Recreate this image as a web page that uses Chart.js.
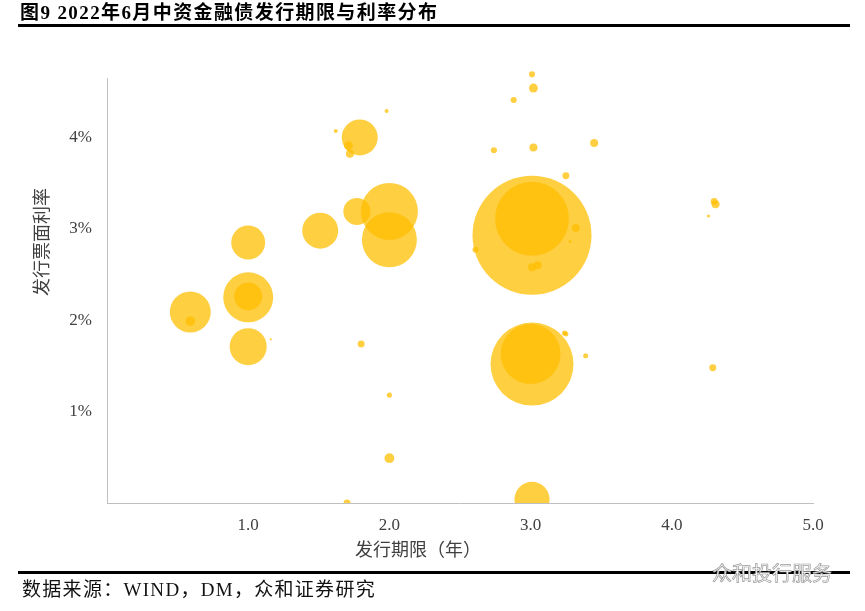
<!DOCTYPE html>
<html>
<head>
<meta charset="utf-8">
<script src="https://cdn.jsdelivr.net/npm/chart.js@4.4.1/dist/chart.umd.min.js"></script>
<style>
  html, body { margin: 0; padding: 0; background: #fff; }
  body { width: 865px; height: 611px; position: relative; overflow: hidden; }
  #c { position: absolute; left: 0; top: 0; }
  .t { position: absolute; white-space: nowrap; }
  #title { left: 20px; top: 1px; font: bold 19px "Liberation Serif", "Noto Sans CJK SC", serif; letter-spacing: 1.4px; color: #000; line-height: 24px; }
  .rule { position: absolute; left: 18px; width: 832px; height: 3px; background: #000; }
  #src { left: 22px; top: 577px; font: 19px "Liberation Serif", "Noto Sans CJK SC", serif; letter-spacing: 1.3px; color: #111; line-height: 26px; }
  #xt { left: 355px; top: 535px; font: 18px "Noto Sans CJK SC", sans-serif; color: #404040; line-height: 26px; }
  #yt { left: 40px; top: 242px; font: 18px "Noto Sans CJK SC", sans-serif; color: #404040; line-height: 26px; transform: translate(-50%, -50%) rotate(-90deg); }
  #wm { left: 712px; top: 560px; font: 20px "Noto Sans CJK SC", sans-serif; color: #fff; -webkit-text-stroke: 0.7px #999; line-height: 26px; }
</style>
</head>
<body>
<canvas id="c" width="865" height="611"></canvas>
<div id="title" class="t">图9 2022年6月中资金融债发行期限与利率分布</div>
<div class="rule" style="top:24px"></div>
<div class="rule" style="top:571px"></div>
<div id="xt" class="t">发行期限（年）</div>
<div id="yt" class="t">发行票面利率</div>
<div id="wm" class="t">众和投行服务</div>
<div id="src" class="t">数据来源：WIND，DM，众和证券研究</div>
<script>
// Issue tenor (years)
const tenorYears = [0.59, 0.59, 1.00, 1.00, 1.00, 1.00, 1.16, 1.51, 1.77, 1.79, 1.62, 1.98, 1.72, 1.71, 2.00, 2.00, 1.80, 2.00, 2.00, 1.70, 2.61, 3.01, 3.01, 3.32, 3.28, 3.01, 3.05, 3.25, 2.74, 3.02, 3.45, 2.88, 3.02, 3.01, 3.01, 3.01, 3.00, 3.24, 3.25, 3.39, 4.29, 4.31, 4.30, 4.26, 3.01];
// Coupon rate (%)
const couponRate = [2.09, 1.99, 2.85, 2.25, 2.26, 1.71, 1.79, 2.98, 3.19, 4.00, 4.07, 4.29, 3.82, 3.91, 3.19, 2.88, 1.74, 1.18, 0.49, 0.00, 2.77, 2.93, 3.11, 3.01, 2.86, 2.58, 2.60, 3.58, 3.86, 3.89, 3.94, 4.41, 4.54, 4.69, 4.85, 1.52, 1.63, 1.86, 1.85, 1.61, 1.48, 3.27, 3.30, 3.14, 0.04];
// Issue amount (bubble size)
const issueAmount = [105, 6, 72, 156, 49, 86, 0.3, 81, 46, 81, 1, 1, 4, 5, 203, 189, 3, 1.6, 6, 3, 2.3, 885, 342, 4, 0.6, 4, 4, 3, 2.3, 4, 4, 2.3, 5, 2.3, 0.6, 430, 225, 1.6, 1.6, 1.6, 3, 4, 3, 0.6, 77];
// Tick labels
const xTickLabels = ['1.0', '2.0', '3.0', '4.0', '5.0'];
const yTickLabels = ['1%', '2%', '3%', '4%'];

const points = tenorYears.map((x, i) => ({ x: x, y: couponRate[i], r: Math.sqrt(issueAmount[i]) * 2 }));

new Chart(document.getElementById('c').getContext('2d'), {
  type: 'bubble',
  data: {
    datasets: [{
      data: points,
      backgroundColor: 'rgba(255,190,0,0.74)',
      borderWidth: 0,
      hoverBorderWidth: 0,
      clip: { left: 60, top: 60, right: 60, bottom: 0 }
    }]
  },
  options: {
    responsive: false,
    devicePixelRatio: 1,
    animation: false,
    events: [],
    layout: { autoPadding: false, padding: { top: 78, right: 52, bottom: 68, left: 0 } },
    plugins: { legend: { display: false }, tooltip: { enabled: false } },
    scales: {
      x: {
        type: 'linear',
        min: 0, max: 5,
        afterFit: s => { s.height = 40; },
        grid: { display: false, drawTicks: false },
        border: { display: true, color: '#BFBFBF', width: 1 },
        ticks: {
          stepSize: 1, padding: 12, color: '#404040',
          font: { family: '"Liberation Serif", serif', size: 17 },
          callback: v => { const i = Math.round(v) - 1; return (i >= 0 && i < xTickLabels.length && Math.abs(v - Math.round(v)) < 1e-6) ? xTickLabels[i] : ''; }
        }
      },
      y: {
        type: 'linear',
        min: 0, max: 4.65,
        afterFit: s => { s.width = 107; },
        grid: { display: false, drawTicks: false },
        border: { display: true, color: '#BFBFBF', width: 1 },
        ticks: {
          stepSize: 1, includeBounds: false, padding: 15, color: '#404040',
          font: { family: '"Liberation Serif", serif', size: 17 },
          callback: v => { const i = Math.round(v) - 1; return (i >= 0 && i < yTickLabels.length && Math.abs(v - Math.round(v)) < 1e-6) ? yTickLabels[i] : ''; }
        }
      }
    }
  }
});
</script>
</body>
</html>
